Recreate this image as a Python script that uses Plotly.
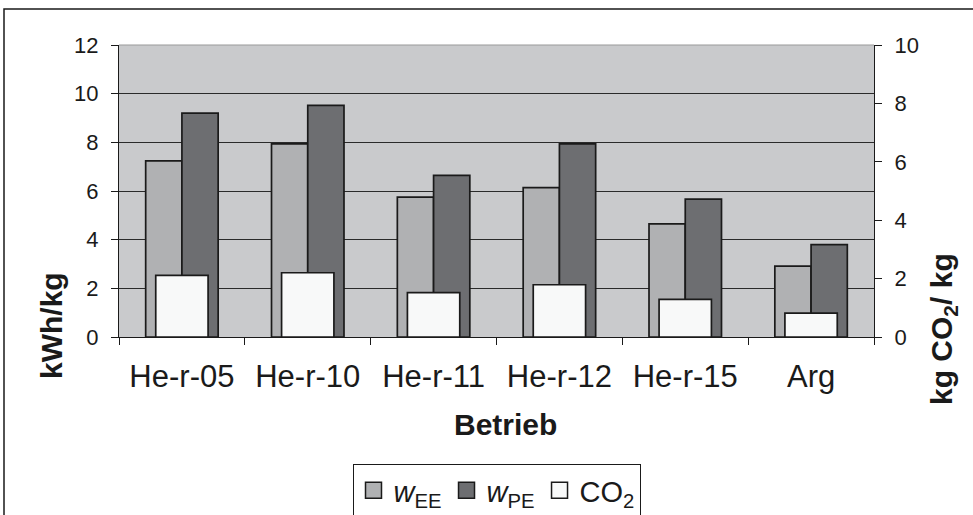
import plotly.graph_objects as go

categories = ["He-r-05", "He-r-10", "He-r-11", "He-r-12", "He-r-15", "Arg"]
w_ee = [7.24, 7.94, 5.75, 6.14, 4.65, 2.91]
w_pe = [9.2, 9.52, 6.64, 7.94, 5.67, 3.8]
co2 = [2.11, 2.2, 1.52, 1.79, 1.29, 0.82]
series_names = ["<i>w</i><sub>EE</sub>", "<i>w</i><sub>PE</sub>", "CO<sub>2</sub>"]
series_colors = ["#b0b1b3", "#6d6e71", "#f8f9f9"]

FONT = "Arial, Liberation Sans, sans-serif"
INK = "#1a1a1a"
W, H = 973, 515
L, R, T, B = 119, 99, 45, 178
pw, ph = W - L - R, H - T - B

fig = go.Figure()
fig.add_trace(go.Bar(
    x=categories, y=w_ee, name=series_names[0], showlegend=False,
    marker=dict(color=series_colors[0], line=dict(color=INK, width=1.7)),
    width=0.288, offset=-0.288, yaxis="y"))
fig.add_trace(go.Bar(
    x=categories, y=w_pe, name=series_names[1], showlegend=False,
    marker=dict(color=series_colors[1], line=dict(color=INK, width=1.7)),
    width=0.288, offset=0.0, yaxis="y"))
fig.add_trace(go.Bar(
    x=categories, y=co2, name=series_names[2], showlegend=False,
    marker=dict(color=series_colors[2], line=dict(color=INK, width=1.7)),
    width=0.416, offset=-0.208, yaxis="y2"))

# legend entries (larger square swatches like the original)
for nm, col in zip(series_names, series_colors):
    fig.add_trace(go.Scatter(
        x=[None], y=[None], mode="markers", name=nm,
        marker=dict(symbol="square", size=16, color=col, line=dict(color=INK, width=1.5)),
        hoverinfo="skip"))

fig.update_layout(
    width=W, height=H,
    margin=dict(l=L, r=R, t=T, b=B, autoexpand=False),
    paper_bgcolor="white",
    plot_bgcolor="#c9cacc",
    barmode="overlay",
    font=dict(family=FONT, color=INK),
    showlegend=True,
    legend=dict(
        orientation="h", x=0.5, xanchor="center", y=(T + ph - 464) / ph, yanchor="top",
        bgcolor="white", bordercolor=INK, borderwidth=1,
        font=dict(size=29, family=FONT, color=INK),
        itemwidth=30, traceorder="normal", tracegroupgap=0,
    ),
    xaxis=dict(
        type="category", range=[-0.5, 5.5],
        showline=True, linecolor=INK, linewidth=1.3,
        ticks="outside", ticklen=7, tickcolor=INK, tickson="boundaries",
        tickfont=dict(size=31, family=FONT, color=INK),
        ticklabelstandoff=12,
        showgrid=False, zeroline=False,
    ),
    yaxis=dict(
        range=[0, 12], dtick=2, tick0=0,
        showline=True, linecolor=INK, linewidth=1.3,
        ticks="outside", ticklen=7, tickcolor=INK,
        tickfont=dict(size=22, family=FONT, color=INK),
        ticklabelstandoff=8,
        showgrid=True, gridcolor="#2a2a2a", gridwidth=1.2,
        zeroline=False,
    ),
    yaxis2=dict(
        range=[0, 10], dtick=2, tick0=0, overlaying="y", side="right",
        showline=True, linecolor=INK, linewidth=1.3,
        ticks="outside", ticklen=7, tickcolor=INK,
        tickfont=dict(size=22, family=FONT, color=INK),
        ticklabelstandoff=8,
        showgrid=False, zeroline=False,
    ),
)

def px_x(x):
    return (x - L) / pw

def px_y(y):
    return (T + ph - y) / ph

# plot-area top border (light gray)
fig.add_shape(type="line", xref="paper", yref="paper", x0=0, x1=1, y0=1, y1=1,
              line=dict(color="#9a9a9a", width=1.2))
# outer chart border
fig.add_shape(type="rect", xref="paper", yref="paper",
              x0=px_x(4), x1=px_x(985), y0=px_y(525), y1=px_y(9),
              line=dict(color=INK, width=1.5), fillcolor="rgba(0,0,0,0)", layer="below")

fig.add_annotation(text="<b>kWh/kg</b>", xref="paper", yref="paper",
                   x=px_x(51), y=px_y(326), textangle=-90, showarrow=False,
                   font=dict(size=30, family=FONT, color=INK),
                   xanchor="center", yanchor="middle")
fig.add_annotation(text="<b>kg CO<sub>2</sub>/ kg</b>", xref="paper", yref="paper",
                   x=px_x(943), y=px_y(329), textangle=-90, showarrow=False,
                   font=dict(size=30, family=FONT, color=INK),
                   xanchor="center", yanchor="middle")
fig.add_annotation(text="<b>Betrieb</b>", xref="paper", yref="paper",
                   x=px_x(505), y=px_y(424), showarrow=False,
                   font=dict(size=30, family=FONT, color=INK),
                   xanchor="center", yanchor="middle")

fig.write_html("out.html", config={"displayModeBar": False},
               post_script="document.body.style.margin='0px';document.body.style.overflow='hidden';")
